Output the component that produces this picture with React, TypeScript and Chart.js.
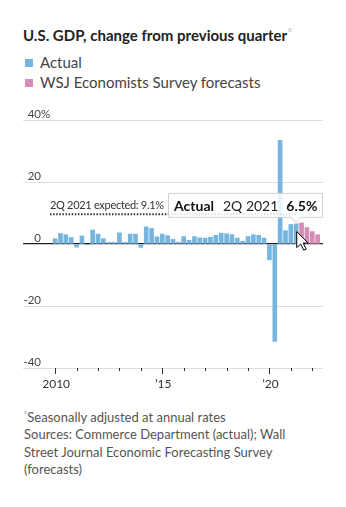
import React, { useEffect, useRef } from "react";
import { Chart, registerables } from "chart.js";

Chart.register(...registerables);

// ---- data ----
const firstYear = 2010; // first quarter shown: 1Q 2010
const actualValues = [
  1.7, 3.4, 3.0, 2.1, // 2010
  -1.0, 2.6, -0.1, 4.5, // 2011
  3.2, 1.7, 0.5, 0.5, // 2012
  3.6, 0.5, 3.2, 3.2, // 2013
  -1.1, 5.5, 5.0, 2.3, // 2014
  3.2, 2.7, 1.5, 0.6, // 2015
  2.4, 1.2, 2.4, 2.0, // 2016
  1.9, 2.2, 2.8, 3.5, // 2017
  3.3, 3.0, 1.9, 0.9, // 2018
  2.4, 3.0, 2.8, 1.9, // 2019
  -5.1, -31.4, 33.4, 4.3, // 2020
  6.3, 6.5, // 2021
];
const forecastValues = [6.8, 5.3, 4.0, 3.0]; // 3Q 2021 - 2Q 2022
const yTicks = [40, 20, 0, -20, -40];
const yTickLabels = ["40", "20", "0", "-20", "-40"];
const xTickYears = [2010, 2011, 2012, 2013, 2014, 2015, 2016, 2017, 2018, 2019, 2020, 2021, 2022];
const xLabelYears = [2010, 2015, 2020];
const xLabels = ["2010", "\u201915", "\u201920"];
const expectedValue = 9.1;
const expectedLabel = "2Q 2021 expected: 9.1%";
const highlightIndex = 45; // 2Q 2021
const highlightQuarter = "2Q 2021";

const BLUE = "#77b5e1";
const PINK = "#d68db5";
const FONT = "Lato, 'Open Sans', sans-serif";

const overlayPlugin = {
  id: "overlay",
  afterDatasetsDraw(chart: any) {
    const ctx = chart.ctx as CanvasRenderingContext2D;
    const xs = chart.scales.x;
    const ys = chart.scales.y;
    const area = chart.chartArea;
    ctx.save();

    // y labels
    ctx.font = `11.5px ${FONT}`;
    ctx.fillStyle = "#444";
    ctx.textBaseline = "alphabetic";
    yTicks.forEach((v, i) => {
      const y = ys.getPixelForValue(v) - 2.5;
      ctx.textAlign = "right";
      ctx.fillText(yTickLabels[i], 41, y);
      if (i === 0) {
        ctx.textAlign = "left";
        ctx.fillText("%", 41, y);
      }
    });

    // x ticks
    ctx.strokeStyle = "#333";
    ctx.lineWidth = 1;
    xTickYears.forEach((yr) => {
      const x = Math.round(xs.getPixelForValue(yr)) + 0.5;
      const major = xLabelYears.includes(yr);
      ctx.beginPath();
      ctx.moveTo(x, area.bottom);
      ctx.lineTo(x, area.bottom + (major ? 6 : 3));
      ctx.stroke();
    });
    ctx.font = `12px ${FONT}`;
    ctx.fillStyle = "#333";
    ctx.textAlign = "center";
    xLabelYears.forEach((yr, i) => {
      ctx.fillText(xLabels[i], xs.getPixelForValue(yr) + 1, area.bottom + 20);
    });

    // expected dotted line
    const hx = xs.getPixelForValue(firstYear + highlightIndex / 4);
    const ey = ys.getPixelForValue(expectedValue) - 1.5;
    ctx.strokeStyle = "#333";
    ctx.lineWidth = 2;
    ctx.setLineDash([1.5, 1.6]);
    ctx.beginPath();
    ctx.moveTo(50, ey);
    ctx.lineTo(hx, ey);
    ctx.stroke();
    ctx.setLineDash([]);
    ctx.font = `11px ${FONT}`;
    ctx.fillStyle = "#333";
    ctx.textAlign = "left";
    (ctx as any).letterSpacing = "-0.3px";
    ctx.fillText(expectedLabel, 50, ey - 5);
    (ctx as any).letterSpacing = "0px";

    // tooltip
    const barTop = ys.getPixelForValue(actualValues[highlightIndex]);
    const boxBottom = barTop - 7;
    const boxTop = boxBottom - 24;
    const boxRight = area.right;
    const boxLeft = boxRight - 155;
    ctx.fillStyle = "rgba(255,255,255,0.85)";
    ctx.strokeStyle = "#cfcfcf";
    ctx.lineWidth = 1;
    ctx.beginPath();
    ctx.moveTo(boxLeft + 0.5, boxTop + 0.5);
    ctx.lineTo(boxRight - 0.5, boxTop + 0.5);
    ctx.lineTo(boxRight - 0.5, boxBottom + 0.5);
    ctx.lineTo(hx + 5, boxBottom + 0.5);
    ctx.lineTo(hx, boxBottom + 5.5);
    ctx.lineTo(hx - 5, boxBottom + 0.5);
    ctx.lineTo(boxLeft + 0.5, boxBottom + 0.5);
    ctx.closePath();
    ctx.fill();
    ctx.stroke();

    const ty = boxBottom - 6;
    let tx = boxLeft + 6;
    ctx.fillStyle = "#111";
    ctx.font = `bold 14px ${FONT}`;
    ctx.fillText("Actual", tx, ty);
    tx += ctx.measureText("Actual").width + 9;
    ctx.font = `14px ${FONT}`;
    ctx.fillStyle = "#222";
    ctx.fillText(highlightQuarter, tx, ty);
    tx += ctx.measureText(highlightQuarter).width + 8;
    ctx.font = `bold 14px ${FONT}`;
    ctx.fillStyle = "#111";
    ctx.fillText(actualValues[highlightIndex].toFixed(1) + "%", tx, ty);

    // mouse cursor
    const cx = hx + 0.5;
    const cy = ys.getPixelForValue(4);
    const pts = [
      [0, 0], [0, 16], [4, 12.5], [7, 18.5], [9.5, 17.5], [6.5, 11.5], [11.5, 11.5],
    ];
    ctx.beginPath();
    pts.forEach(([px, py], i) => {
      if (i === 0) ctx.moveTo(cx + px, cy + py);
      else ctx.lineTo(cx + px, cy + py);
    });
    ctx.closePath();
    ctx.fillStyle = "#fff";
    ctx.fill();
    ctx.strokeStyle = "#000";
    ctx.lineWidth = 1;
    ctx.stroke();

    ctx.restore();
  },
};

function GdpChart() {
  const ref = useRef<HTMLCanvasElement | null>(null);
  useEffect(() => {
    if (!ref.current) return;
    const chart = new Chart(ref.current, {
      type: "bar",
      data: {
        datasets: [
          {
            label: "Actual",
            data: actualValues.map((v, i) => ({ x: firstYear + i / 4, y: v })),
            backgroundColor: BLUE,
            barThickness: 4,
            grouped: false,
          } as any,
          {
            label: "WSJ Economists Survey forecasts",
            data: forecastValues.map((v, i) => ({
              x: firstYear + (actualValues.length + i) / 4,
              y: v,
            })),
            backgroundColor: PINK,
            barThickness: 4,
            grouped: false,
          } as any,
        ],
      },
      options: {
        animation: false,
        responsive: false,
        devicePixelRatio: 1,
        layout: { padding: { left: 23, right: 23, top: 20, bottom: 32 } },
        plugins: { legend: { display: false }, tooltip: { enabled: false } },
        scales: {
          x: { type: "linear", min: 2008.5, max: 2022.5, offset: false, display: false },
          y: {
            min: -40,
            max: 40,
            ticks: { display: false, stepSize: 20 },
            border: { display: false },
            grid: {
              drawTicks: false,
              color: (c: any) => (c.tick && c.tick.value === 0 ? "#222" : "#dedede"),
              lineWidth: (c: any) => (c.tick && c.tick.value === 0 ? 1.3 : 1),
            },
            afterFit: (s: any) => {
              s.width = 0;
            },
          },
        },
      } as any,
      plugins: [overlayPlugin],
    });
    return () => chart.destroy();
  }, []);
  return (
    <canvas
      ref={ref}
      width={346}
      height={300}
      style={{ position: "absolute", left: 0, top: 100, width: 346, height: 300, display: "block" }}
    />
  );
}

export default function App() {
  useEffect(() => {
    document.body.style.margin = "0";
  }, []);
  const legendRow = (color: string, text: string, top: number) => (
    <div style={{ position: "absolute", left: 25, top, height: 20, lineHeight: "20px", fontSize: 15, color: "#444", whiteSpace: "nowrap" }}>
      <span style={{ display: "inline-block", width: 8, height: 8, background: color, marginRight: 7, verticalAlign: "1.5px" }} />
      {text}
    </div>
  );
  return (
    <div style={{ position: "relative", width: 346, height: 507, fontFamily: FONT, background: "#fff", overflow: "hidden" }}>
      <div style={{ position: "absolute", left: 23, top: 24, lineHeight: "18px", fontSize: 15, fontWeight: 700, color: "#222", whiteSpace: "nowrap" }}>
        U.S. GDP, change from previous quarter
        <span style={{ fontSize: 9, color: "#aaa", fontWeight: 400, verticalAlign: "5px", marginLeft: 1 }}>°</span>
      </div>
      {legendRow(BLUE, "Actual", 52)}
      {legendRow(PINK, "WSJ Economists Survey forecasts", 72)}
      <GdpChart />
      <div style={{ position: "absolute", left: 24, top: 405.5, lineHeight: "17.5px", fontSize: 13, color: "#555", width: 300 }}>
        <div>
          <span style={{ fontSize: 8, color: "#999", verticalAlign: "5px" }}>°</span>Seasonally adjusted at annual rates
        </div>
        <div>Sources: Commerce Department (actual); Wall</div>
        <div>Street Journal Economic Forecasting Survey</div>
        <div>(forecasts)</div>
      </div>
    </div>
  );
}
